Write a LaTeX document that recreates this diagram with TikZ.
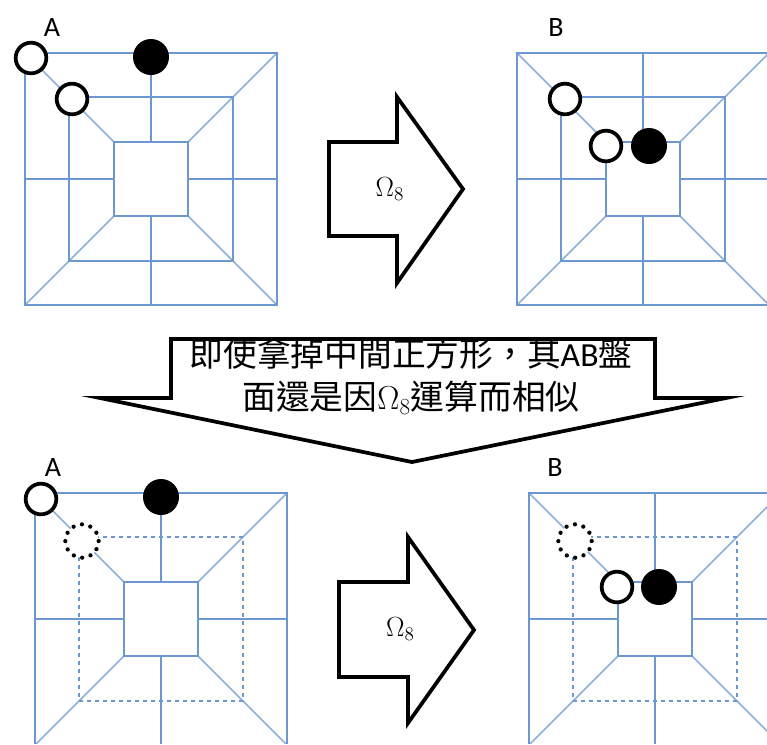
\documentclass[tikz,border=0pt]{standalone}
\usepackage{fontspec}
\setmainfont{Carlito}
\newfontfamily\cjk{Noto Sans CJK TC}
\usetikzlibrary{calc}
\definecolor{boardblue}{RGB}{108,151,207}
\definecolor{boarddiag}{RGB}{140,175,220}
\tikzset{
	boardline/.style={draw=boardblue, line width=1.3pt},
	diagline/.style={draw=boarddiag, line width=1.2pt},
	blockarrow/.style={draw=black, fill=white, line width=2.8pt, line join=miter, miter limit=14},
	whitestone/.style={circle, draw=black, fill=white, line width=2.8pt, minimum size=23pt, inner sep=0pt},
	blackstone/.style={circle, fill=black, minimum size=27pt, inner sep=0pt},
	dotstone/.style={circle, fill=white, minimum size=25pt, inner sep=0pt},
	dotring/.style={line width=3.2pt, line cap=round, dash pattern=on 0pt off 6.55pt},
	letterlabel/.style={font=\fontsize{21pt}{23pt}\selectfont},
	omegalabel/.style={font=\fontsize{20pt}{22pt}\selectfont},
	arrowtext/.style={font=\fontsize{25.3pt}{27pt}\selectfont\cjk},
}
\begin{document}
\begin{tikzpicture}[x=.75pt,y=-.75pt]

	\useasboundingbox (0,0) rectangle (767,744);
	\clip (0,0) rectangle (767,743);

	% boards
	\foreach \cx/\cy/\midstyle in {151/179/solid, 643/179/solid, 161/619/dashed, 655/619/dashed} {
		\coordinate (O) at (\cx,\cy);
		\coordinate (NW) at ($(O)+(-126,-126)$);
		\coordinate (NE) at ($(O)+(126,-126)$);
		\coordinate (SE) at ($(O)+(126,126)$);
		\coordinate (SW) at ($(O)+(-126,126)$);
		\coordinate (MNW) at ($(O)+(-82,-82)$);
		\coordinate (MNE) at ($(O)+(82,-82)$);
		\coordinate (MSE) at ($(O)+(82,82)$);
		\coordinate (MSW) at ($(O)+(-82,82)$);
		\coordinate (INW) at ($(O)+(-37,-37)$);
		\coordinate (INE) at ($(O)+(37,-37)$);
		\coordinate (ISE) at ($(O)+(37,37)$);
		\coordinate (ISW) at ($(O)+(-37,37)$);

		\draw[diagline] (NW) -- (INW);
		\draw[diagline] (NE) -- (INE);
		\draw[diagline] (SE) -- (ISE);
		\draw[diagline] (SW) -- (ISW);
		\draw[boardline] (NW) -- (NE) -- (SE) -- (SW) -- cycle;
		\draw[boardline] (INW) -- (INE) -- (ISE) -- (ISW) -- cycle;
		\draw[boardline, \midstyle] (MNW) -- (MNE) -- (MSE) -- (MSW) -- cycle;
		\draw[boardline] ($(NW)!.5!(NE)$) -- ($(INW)!.5!(INE)$);
		\draw[boardline] ($(SW)!.5!(SE)$) -- ($(ISW)!.5!(ISE)$);
		\draw[boardline] ($(NW)!.5!(SW)$) -- ($(INW)!.5!(ISW)$);
		\draw[boardline] ($(NE)!.5!(SE)$) -- ($(INE)!.5!(ISE)$);
	}

	% top row
	\node[letterlabel] (A1) at (52,28) {A};
	\node[letterlabel] (B1) at (556,28) {B};
	\node[whitestone] (W1) at (31,58) {};
	\node[whitestone] (W2) at (72,99) {};
	\node[blackstone] (K1) at (151,57) {};
	\node[whitestone] (W3) at (565,99) {};
	\node[whitestone] (W4) at (606,146) {};
	\node[blackstone] (K2) at (649,146) {};

	\draw[blockarrow] (329,142) -- (397,142) -- (397,97) -- (463,189) -- (397,283) -- (397,236) -- (329,236) -- cycle;
	\node[omegalabel] (R1) at (390,189) {$\Omega_{8}$};

	% middle arrow
	\draw[blockarrow] (171,339) -- (655,339) -- (655,398) -- (726,398) -- (412,462) -- (100,398) -- (171,398) -- cycle;
	\node[arrowtext] (T1) at (411,353) {即使拿掉中間正方形，其{\rmfamily AB}盤};
	\node[arrowtext] (T2) at (411,398) {面還是因{\rmfamily\fontsize{24pt}{26pt}\selectfont $\Omega_{8}$}運算而相似};

	% bottom row
	\node[letterlabel] (A2) at (53,468) {A};
	\node[letterlabel] (B2) at (555,468) {B};
	\node[whitestone] (W5) at (41,499) {};
	\node[dotstone] (D1) at (82,541) {};
	\draw[dotring] (D1) circle (12.5pt);
	\node[blackstone] (K3) at (161,497) {};
	\node[dotstone] (D2) at (575,541) {};
	\draw[dotring] (D2) circle (12.5pt);
	\node[whitestone] (W6) at (617,587) {};
	\node[blackstone] (K4) at (659,587) {};

	\draw[blockarrow] (339,582) -- (408,582) -- (408,537) -- (474,630) -- (408,723) -- (408,677) -- (339,677) -- cycle;
	\node[omegalabel] (R2) at (400.5,629) {$\Omega_{8}$};

\end{tikzpicture}
\end{document}
